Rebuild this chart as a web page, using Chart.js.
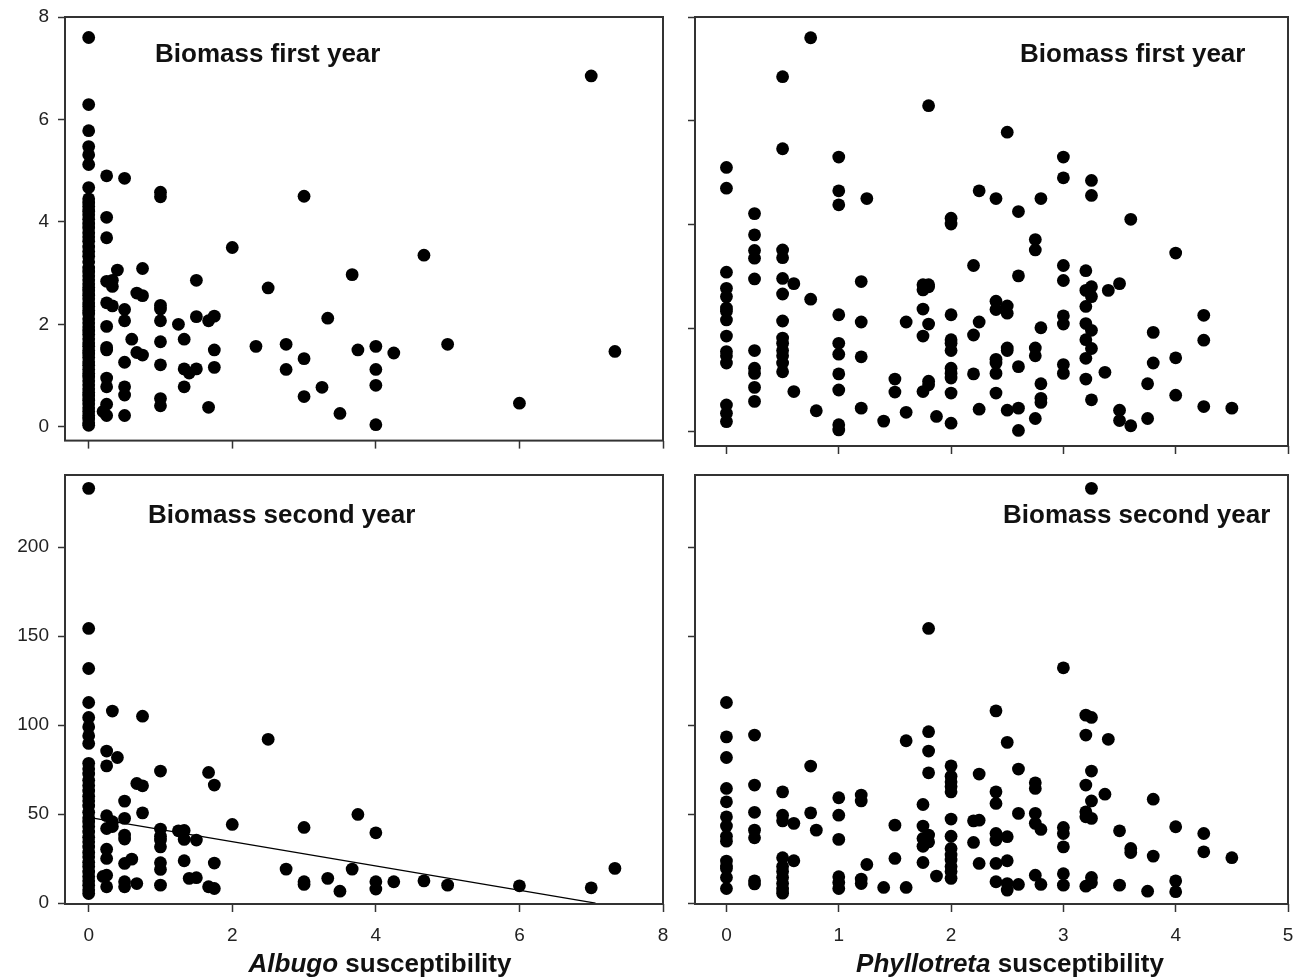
<!DOCTYPE html>
<html>
<head>
<meta charset="utf-8">
<script src="https://cdn.jsdelivr.net/npm/chart.js@4.4.1/dist/chart.umd.min.js"></script>
<style>
  html, body { margin: 0; padding: 0; background: #fff; }
  body { width: 1305px; height: 977px; position: relative; overflow: hidden;
         font-family: 'Liberation Sans', Arial, sans-serif; }
  .panel { position: absolute; }
  .panel canvas { display: block; }
  .lbl { position: absolute; font-weight: bold; font-size: 26px; line-height: 1; white-space: nowrap; color: #111; z-index: 5; }
  .axt { position: absolute; font-weight: bold; font-size: 26px; line-height: 1; white-space: nowrap; color: #111;
         transform: translateX(-50%); z-index: 5; }
</style>
</head>
<body>
<div class="panel" id="p1"><canvas id="c1"></canvas></div>
<div class="panel" id="p2"><canvas id="c2"></canvas></div>
<div class="panel" id="p3"><canvas id="c3"></canvas></div>
<div class="panel" id="p4"><canvas id="c4"></canvas></div>

<div class="lbl" style="left:155px; top:40px;">Biomass first year</div>
<div class="lbl" style="left:1020px; top:40px;">Biomass first year</div>
<div class="lbl" style="left:148px; top:501px;">Biomass second year</div>
<div class="lbl" style="left:1003px; top:501px;">Biomass second year</div>
<div class="axt" style="left:380px; top:950px;"><i>Albugo</i> susceptibility</div>
<div class="axt" style="left:1010px; top:950px;"><i>Phyllotreta</i> susceptibility</div>

<script>
// ---------- DATA ----------
// Albugo susceptibility levels (x) and Biomass first year (y) at each level
const albugoLevelsY1 = [0, 0.2, 0.25, 0.33, 0.4, 0.5, 0.6, 0.67, 0.75, 1, 1.25, 1.33, 1.4, 1.5, 1.67, 1.75, 2, 2.33, 2.5, 2.75, 3, 3.25, 3.33, 3.5, 3.67, 3.75, 4, 4.25, 4.67, 5, 6, 7, 7.33];
const biomass1ByAlbugo = [
  [7.6, 6.29, 5.78, 5.47, 5.31, 5.12, 4.67, 4.45, 4.37, 4.3, 4.21, 4.14, 4.05, 3.96, 3.88, 3.79, 3.71, 3.62, 3.51, 3.42, 3.33, 3.22, 3.1, 3.02, 2.95, 2.87, 2.79, 2.72, 2.65, 2.57, 2.5, 2.42, 2.35, 2.27, 2.2, 2.11, 2.03, 1.95, 1.87, 1.8, 1.72, 1.64, 1.57, 1.49, 1.42, 1.35, 1.27, 1.2, 1.12, 1.04, 0.97, 0.9, 0.82, 0.74, 0.67, 0.6, 0.52, 0.45, 0.37, 0.3, 0.22, 0.15, 0.08, 0.03],
  [0.3],
  [4.9, 4.09, 3.69, 2.84, 2.42, 1.96, 1.55, 1.5, 0.95, 0.78, 0.44, 0.22],
  [2.86, 2.74, 2.36],
  [3.06],
  [4.85, 2.29, 2.07, 1.26, 0.78, 0.62, 0.22],
  [1.71],
  [2.61, 1.45],
  [3.09, 2.56, 1.4],
  [4.58, 4.49, 2.37, 2.3, 2.07, 1.66, 1.21, 0.55, 0.41],
  [2.0],
  [1.71, 1.13, 0.78],
  [1.05],
  [2.86, 2.15, 1.13],
  [2.07, 0.38],
  [2.16, 1.5, 1.16],
  [3.5],
  [1.57],
  [2.71],
  [1.61, 1.12],
  [4.5, 1.33, 0.59],
  [0.77],
  [2.12],
  [0.26],
  [2.97],
  [1.5],
  [1.57, 1.12, 0.81, 0.04],
  [1.44],
  [3.35],
  [1.61],
  [0.46],
  [6.85],
  [1.47]
];

// Phyllotreta susceptibility levels (x) shared by both years
const phyllotretaLevels = [0, 0.25, 0.5, 0.6, 0.75, 0.8, 1, 1.2, 1.25, 1.4, 1.5, 1.6, 1.75, 1.8, 1.87, 2, 2.2, 2.25, 2.4, 2.5, 2.6, 2.75, 2.8, 3, 3.2, 3.25, 3.37, 3.4, 3.5, 3.6, 3.75, 3.8, 4, 4.25, 4.5];
const biomass1ByPhyllotreta = [
  [5.1, 4.7, 3.08, 2.77, 2.61, 2.39, 2.33, 2.16, 1.85, 1.55, 1.47, 1.33, 0.52, 0.36, 0.2],
  [4.21, 3.8, 3.5, 3.35, 2.95, 1.57, 1.23, 1.13, 0.86, 0.59],
  [6.85, 5.46, 3.51, 3.36, 2.96, 2.66, 2.14, 1.81, 1.71, 1.57, 1.47, 1.33, 1.16],
  [2.86, 0.78],
  [7.6, 2.56],
  [0.41],
  [5.3, 4.65, 4.38, 2.26, 1.71, 1.5, 1.12, 0.81, 0.14, 0.04],
  [2.9, 2.12, 1.45, 0.46],
  [4.5],
  [0.21],
  [1.02, 0.77],
  [2.12, 0.38],
  [2.84, 2.74, 2.37, 1.85, 0.78],
  [6.29, 2.84, 2.8, 2.08, 0.98, 0.91],
  [0.3],
  [4.12, 4.01, 2.26, 1.78, 1.71, 1.57, 1.23, 1.13, 1.04, 0.75, 0.17],
  [3.21, 1.87, 1.12],
  [4.65, 2.12, 0.44],
  [4.5, 2.52, 2.36, 1.4, 1.33, 1.13, 0.75],
  [5.78, 2.43, 2.29, 1.62, 1.57, 0.42],
  [4.25, 3.01, 1.26, 0.46, 0.03],
  [3.71, 3.51, 1.62, 1.47, 0.26],
  [4.5, 2.01, 0.93, 0.65, 0.57],
  [5.3, 4.9, 3.21, 2.92, 2.24, 2.08, 1.3, 1.13],
  [3.11, 2.73, 2.42, 2.09, 1.78, 1.42, 1.02],
  [4.85, 4.56, 2.8, 2.61, 1.96, 1.61, 0.62],
  [1.15],
  [2.73],
  [2.86, 0.42, 0.22],
  [4.1, 0.12],
  [0.93, 0.26],
  [1.92, 1.33],
  [3.45, 1.43, 0.71],
  [2.25, 1.77, 0.49],
  [0.46]
];

// Albugo susceptibility levels (x) and Biomass second year (y)
const albugoLevelsY2 = [0, 0.2, 0.25, 0.33, 0.4, 0.5, 0.6, 0.67, 0.75, 1, 1.25, 1.33, 1.4, 1.5, 1.67, 1.75, 2, 2.5, 2.75, 3, 3.33, 3.5, 3.67, 3.75, 4, 4.25, 4.67, 5, 6, 7, 7.33];
const biomass2ByAlbugo = [
  [233, 154.3, 131.8, 112.7, 104.3, 99, 94, 89.7, 78.5, 75.5, 72.5, 69, 66, 63, 60, 57.5, 54.5, 51, 48, 45.5, 43, 40, 37, 34.5, 31.5, 28.5, 26, 23, 20.5, 17.5, 15, 12.5, 10, 7.5, 5.4],
  [15],
  [85.4, 77.1, 49.1, 41.9, 30.3, 25.1, 15.7, 9.2],
  [107.9, 45.7, 43],
  [81.8],
  [57.3, 47.6, 38.2, 36, 22.3, 12, 9.2],
  [24.7],
  [67.2, 11],
  [105, 65.9, 50.7],
  [74.2, 41.6, 37.6, 35.4, 31.6, 22.7, 18.9, 10.1],
  [40.6],
  [40.8, 35.8, 23.8],
  [13.9],
  [35.4, 14.3],
  [73.4, 9.2],
  [66.3, 22.5, 8.2],
  [44.2],
  [92],
  [19.1],
  [42.5, 12, 10.5],
  [13.9],
  [6.7],
  [19.1],
  [49.8],
  [39.5, 12, 7.9],
  [12],
  [12.5],
  [10.1],
  [9.7],
  [8.6],
  [19.5]
];
// fitted regression line (Albugo vs biomass second year)
const regressionX = [0, 7.06];
const regressionY = [48.2, 0];

const biomass2ByPhyllotreta = [
  [112.7, 93.4, 81.8, 64.4, 56.9, 48.5, 43.3, 37.5, 34.8, 23.6, 21, 19.5, 14.4, 8.2],
  [94.4, 66.3, 51, 41, 36.7, 12.5, 10.8],
  [62.5, 49.4, 46.2, 25.5, 20.5, 17.7, 14.4, 11, 7.9, 5.6],
  [44.8, 23.8],
  [77, 50.7],
  [41],
  [59.2, 49.4, 35.8, 14.8, 11.6, 8.2],
  [60.7, 57.4, 13.5, 11],
  [21.7],
  [8.8],
  [43.8, 25.1],
  [91.2, 8.8],
  [55.4, 43.3, 36.3, 31.9, 22.8],
  [154.3, 96.3, 85.4, 73.2, 38.2, 34.4],
  [15.2],
  [77.1, 71.3, 68.2, 65.5, 62.5, 47.2, 37.6, 30.7, 27, 24.2, 20.5, 17.7, 13.9],
  [46.2, 34.1],
  [72.5, 46.6, 22.3],
  [108, 62.5, 56, 39.1, 35.4, 22.3, 12],
  [90.3, 37.3, 23.8, 11, 7.3],
  [75.3, 50.4, 10.5],
  [67.6, 64.4, 50.4, 44.8, 15.7],
  [41.4, 10.5],
  [132.2, 42.5, 39.1, 31.6, 16.5, 10.1],
  [105.6, 94.4, 66.3, 51.3, 48.5, 9.5],
  [233, 104.3, 74.2, 57.4, 47.6, 14.4, 11.4],
  [61.2],
  [92],
  [40.6, 10.1],
  [30.7, 28.4],
  [6.7],
  [58.4, 26.4],
  [42.9, 12.5, 6.4],
  [39.1, 28.8],
  [25.5]
];

// tick labels
const albugoTicks = [0, 2, 4, 6, 8];
const phyllotretaTicks = [0, 1, 2, 3, 4, 5];
const biomass1Ticks = [0, 2, 4, 6, 8];
const biomass2Ticks = [0, 50, 100, 150, 200];

// ---------- RENDERING ----------
function toPoints(levels, groups) {
  const pts = [];
  levels.forEach((x, i) => groups[i].forEach(y => pts.push({ x: x, y: y })));
  return pts;
}

const FRAME = '#333';
const frameBox = {
  id: 'frameBox',
  afterDraw(chart) {
    const a = chart.chartArea, ctx = chart.ctx;
    ctx.save();
    ctx.strokeStyle = FRAME;
    ctx.lineWidth = 2;
    ctx.strokeRect(a.left, a.top, a.right - a.left, a.bottom - a.top);
    ctx.restore();
  }
};

Chart.defaults.font.family = "'Liberation Sans', Arial, sans-serif";
Chart.defaults.font.size = 19;
Chart.defaults.color = '#222';

const PAD_TOP = 30, PAD_RIGHT = 25;

function makePanel(id, opt) {
  const wrap = document.getElementById('p' + id);
  const canvas = document.getElementById('c' + id);
  const W = opt.yAxisW + (opt.frame.r - opt.frame.l) + PAD_RIGHT;
  const H = PAD_TOP + (opt.frame.b - opt.frame.t) + opt.xAxisH;
  wrap.style.left = (opt.frame.l - opt.yAxisW) + 'px';
  wrap.style.top = (opt.frame.t - PAD_TOP) + 'px';
  wrap.style.width = W + 'px';
  wrap.style.height = H + 'px';
  canvas.width = W; canvas.height = H;
  canvas.style.width = W + 'px'; canvas.style.height = H + 'px';

  const datasets = [{
    type: 'scatter',
    data: opt.points,
    pointRadius: 6.4,
    pointHoverRadius: 6.4,
    pointBackgroundColor: '#000',
    pointBorderWidth: 0,
    borderWidth: 0,
    clip: false
  }];
  if (opt.line) {
    datasets.push({
      type: 'line',
      data: opt.line,
      borderColor: '#000',
      borderWidth: 1.3,
      pointRadius: 0,
      fill: false,
      tension: 0,
      clip: false
    });
  }

  const gridCfg = { drawOnChartArea: false, drawTicks: true, tickLength: 7, tickColor: FRAME, tickWidth: 1.5, color: FRAME };

  new Chart(canvas, {
    type: 'scatter',
    data: { datasets: datasets },
    plugins: [frameBox],
    options: {
      responsive: false,
      animation: false,
      devicePixelRatio: 1,
      events: [],
      layout: { padding: { top: PAD_TOP, right: PAD_RIGHT, left: 0, bottom: 0 } },
      plugins: { legend: { display: false }, tooltip: { enabled: false }, title: { display: false } },
      scales: {
        x: {
          type: 'linear', position: 'bottom',
          min: opt.xMin, max: opt.xMax,
          afterBuildTicks: s => { s.ticks = opt.xTicks.map(v => ({ value: v })); },
          afterFit: s => { s.height = opt.xAxisH; },
          grid: Object.assign({}, gridCfg, { tickLength: 8 }),
          border: { display: false },
          ticks: { display: opt.showX, padding: 12, maxRotation: 0, autoSkip: false, color: '#222', font: { size: 19 } }
        },
        y: {
          type: 'linear', position: 'left',
          min: opt.yMin, max: opt.yMax,
          afterBuildTicks: s => { s.ticks = opt.yTicks.map(v => ({ value: v })); },
          afterFit: s => { s.width = opt.yAxisW; },
          grid: gridCfg,
          border: { display: false },
          ticks: { display: opt.showY, padding: 9, autoSkip: false, color: '#222', font: { size: 19 } }
        }
      }
    }
  });
}

const leftFrameL = 65, leftFrameR = 663, rightFrameL = 695, rightFrameR = 1288;
const topT = 17, topB = 446, botT = 475, botB = 904;

makePanel(1, {
  frame: { l: leftFrameL, r: leftFrameR, t: topT, b: topB }, yAxisW: 65, xAxisH: 15,
  points: toPoints(albugoLevelsY1, biomass1ByAlbugo),
  xMin: -0.33, xMax: 8, yMin: -0.27, yMax: 8,
  xTicks: albugoTicks, yTicks: biomass1Ticks, showX: false, showY: true
});
makePanel(2, {
  frame: { l: rightFrameL, r: rightFrameR, t: topT, b: topB }, yAxisW: 20, xAxisH: 15,
  points: toPoints(phyllotretaLevels, biomass1ByPhyllotreta),
  xMin: -0.28, xMax: 5, yMin: -0.27, yMax: 8,
  xTicks: phyllotretaTicks, yTicks: biomass1Ticks, showX: false, showY: false
});
makePanel(3, {
  frame: { l: leftFrameL, r: leftFrameR, t: botT, b: botB }, yAxisW: 65, xAxisH: 73,
  points: toPoints(albugoLevelsY2, biomass2ByAlbugo),
  line: regressionX.map((x, i) => ({ x: x, y: regressionY[i] })),
  xMin: -0.33, xMax: 8, yMin: -0.5, yMax: 240.5,
  xTicks: albugoTicks, yTicks: biomass2Ticks, showX: true, showY: true
});
makePanel(4, {
  frame: { l: rightFrameL, r: rightFrameR, t: botT, b: botB }, yAxisW: 20, xAxisH: 73,
  points: toPoints(phyllotretaLevels, biomass2ByPhyllotreta),
  xMin: -0.28, xMax: 5, yMin: -0.5, yMax: 240.5,
  xTicks: phyllotretaTicks, yTicks: biomass2Ticks, showX: true, showY: false
});
</script>
</body>
</html>
